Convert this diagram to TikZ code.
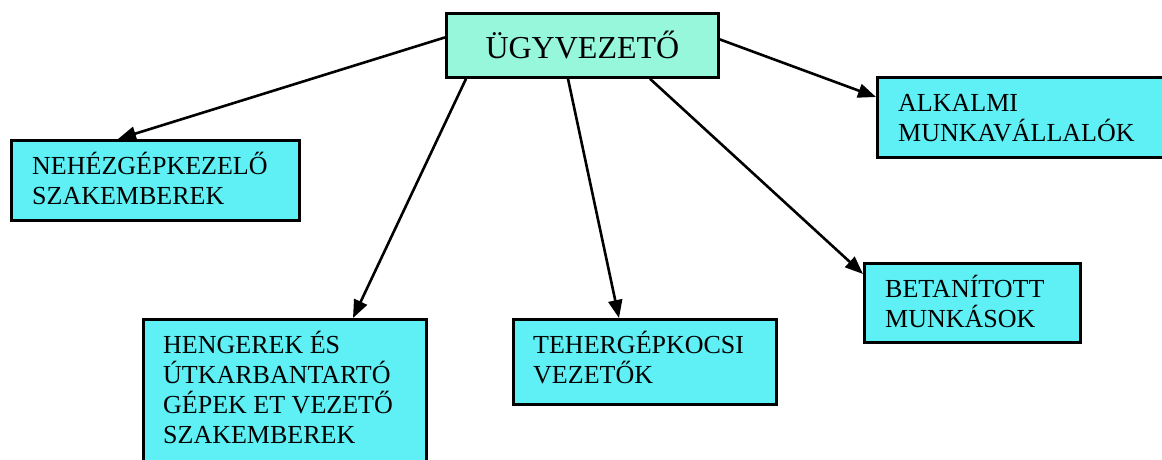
\documentclass[tikz,border=0pt]{standalone}
\usepackage{fontspec}
\setmainfont{Liberation Serif}
\usetikzlibrary{arrows.meta}
\definecolor{bosscol}{RGB}{150,247,218}
\definecolor{unitcol}{RGB}{94,240,245}
\begin{document}
\begin{tikzpicture}[x=1pt,y=-1pt,
  unitbox/.style={draw=black,line width=2.8pt,fill=unitcol,rectangle,inner sep=0pt,anchor=north west},
  unittext/.style={font=\fontsize{26}{30}\selectfont,align=left,inner sep=0pt,anchor=base west},
  link/.style={line width=2.6pt,-{Triangle[length=18pt,width=14pt]}}]
\useasboundingbox (0,0) rectangle (1162,459);
\clip (0,0) rectangle (1162,459);
\node[unitbox,fill=bosscol,minimum width=272pt,minimum height=64pt,font=\fontsize{32}{38}\selectfont] (boss) at (445,12) {ÜGYVEZETŐ};
\node[unitbox,minimum width=288pt,minimum height=80pt] (nehez) at (10,139) {};
\node[unitbox,minimum width=283pt,minimum height=160pt] (henger) at (142,318) {};
\node[unitbox,minimum width=263pt,minimum height=85pt] (teher) at (512,318) {};
\node[unitbox,minimum width=216pt,minimum height=79pt] (betan) at (863,262) {};
\node[unitbox,minimum width=300pt,minimum height=80pt] (alkalmi) at (876,76) {};
% base west sits on the last line
\node[unittext] (nehezlbl) at ([xshift=22pt,yshift=-65pt]nehez.north west) {NEHÉZGÉPKEZELŐ\\SZAKEMBEREK};
\node[unittext] (hengerlbl) at ([xshift=21pt,yshift=-125pt]henger.north west) {HENGEREK ÉS\\ÚTKARBANTARTÓ\\GÉPEK ET VEZETŐ\\SZAKEMBEREK};
\node[unittext] (teherlbl) at ([xshift=21pt,yshift=-65pt]teher.north west) {TEHERGÉPKOCSI\\VEZETŐK};
\node[unittext] (betanlbl) at ([xshift=22pt,yshift=-65pt]betan.north west) {BETANÍTOTT\\MUNKÁSOK};
\node[unittext] (alkalmilbl) at ([xshift=22pt,yshift=-65pt]alkalmi.north west) {ALKALMI\\MUNKAVÁLLALÓK};
\draw[link] ([yshift=8pt]boss.west) -- ([xshift=108pt]nehez.north west);
\draw[link] ([xshift=21pt]boss.south west) -- ([xshift=211pt]henger.north west);
\draw[link] ([xshift=123pt]boss.south west) -- ([xshift=107pt]teher.north west);
\draw[link] ([xshift=205pt]boss.south west) -- ([yshift=-12pt]betan.north west);
\draw[link] ([yshift=6pt]boss.east) -- ([yshift=-21pt]alkalmi.north west);
\end{tikzpicture}
\end{document}
